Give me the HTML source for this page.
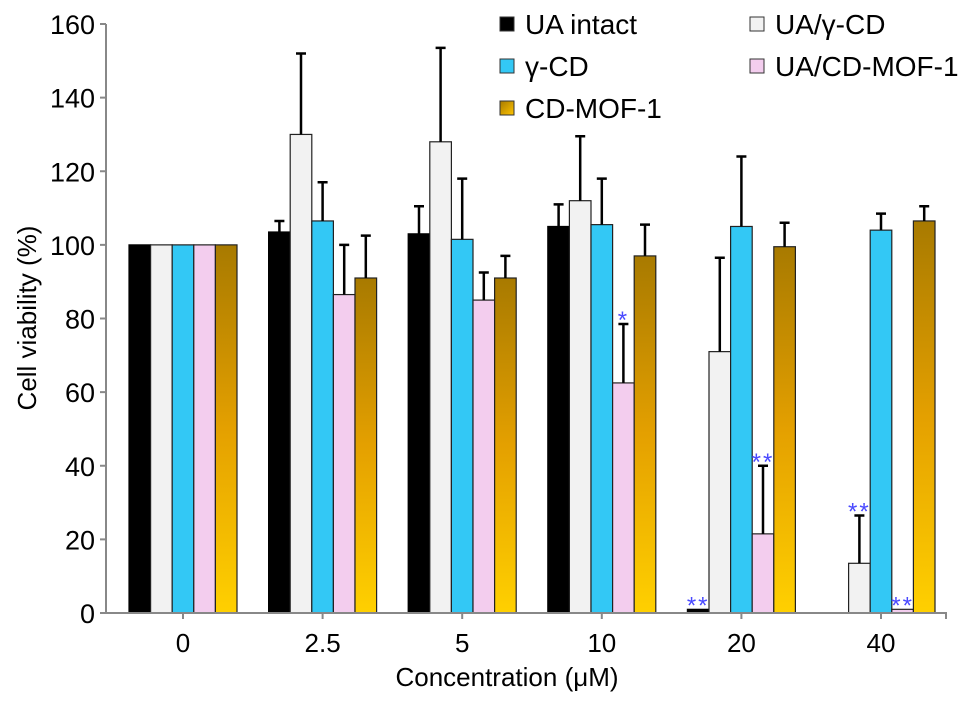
<!DOCTYPE html>
<html><head><meta charset="utf-8"><style>
body{margin:0;background:#fff;}
svg text{font-family:"Liberation Sans",Arial,sans-serif;}
</style></head><body>
<svg id="chart" width="969" height="706" viewBox="0 0 969 706" xmlns="http://www.w3.org/2000/svg">
<defs>
<linearGradient id="gold" x1="0" y1="0" x2="0" y2="1"><stop offset="0" stop-color="#a87a00"/><stop offset="0.5" stop-color="#e4a000"/><stop offset="1" stop-color="#ffd000"/></linearGradient>
<linearGradient id="goldLeg" x1="0" y1="0" x2="1" y2="1"><stop offset="0" stop-color="#a87a00"/><stop offset="1" stop-color="#ffc400"/></linearGradient>
</defs>
<g id="plot"></g>
</svg>
<script>
const categories = ["0","2.5","5","10","20","40"];
const seriesNames = ["UA intact","UA/γ-CD","γ-CD","UA/CD-MOF-1","CD-MOF-1"];
const uaIntact = [100,103.5,103,105,1,0];
const uaGcd = [100,130,128,112,71,13.5];
const gcd = [100,106.5,101.5,105.5,105,104];
const uaMof = [100,86.5,85,62.5,21.5,1];
const mof = [100,91,91,97,99.5,106.5];
const errUaIntact = [0,3,7.5,6,0,0];
const errUaGcd = [0,22,25.5,17.5,25.5,13];
const errGcd = [0,10.5,16.5,12.5,19,4.5];
const errUaMof = [0,13.5,7.5,16,18.5,0];
const errMof = [0,11.5,6,8.5,6.5,4];
const yTicks = [0,20,40,60,80,100,120,140,160];
// significance marks: [series index, category index, label]
const sigMarks = [[3,3,"*"],[0,4,"**"],[3,4,"**"],[1,5,"**"],[3,5,"**"]];

const series=[uaIntact,uaGcd,gcd,uaMof,mof];
const errs=[errUaIntact,errUaGcd,errGcd,errUaMof,errMof];
const fills=["#000","#f2f2f2","#33c8f5","#f3cdee","url(#gold)"];
const NS="http://www.w3.org/2000/svg";
const g=document.getElementById('plot');
const y0=613,yTop=24,yMax=160;
const yS=v=>y0-(v/yMax)*(y0-yTop);
const groupLeft=i=>129+i*139.6, bw=21.6;
const barX=(i,s)=>groupLeft(i)+s*bw;
function el(t,a,parent){const e=document.createElementNS(NS,t);for(const k in a)e.setAttribute(k,a[k]);(parent||g).appendChild(e);return e;}

// bars
series.forEach((arr,s)=>{arr.forEach((v,i)=>{
  const x=barX(i,s);
  const r=el('rect',{x:x,y:yS(v),width:bw,height:y0-yS(v),fill:fills[s],stroke:s==0?"#000":"#222","stroke-width":1.2});
  
  
  const e=errs[s][i];
  if(e>0){const cx=x+bw/2;
    const ln=el('path',{d:`M${cx},${yS(v)}V${yS(v+e)}M${cx-5},${yS(v+e)}H${cx+5}`,stroke:"#000","stroke-width":2.5,fill:"none"});
    
    }
});});
sigMarks.forEach(m=>{const [s,i,l]=m;const v=series[s][i]+errs[s][i];
  const t=el('text',{x:barX(i,s)+bw/2,y:yS(v)+4,'text-anchor':'middle','font-size':24,'letter-spacing':2,fill:"#4a4aff"});t.textContent=l;
  
  });

// axes
const ax=el('path',{d:`M106,${yTop}V${y0}H946V${y0+6}`,stroke:"#888","stroke-width":2,fill:"none"});


yTicks.forEach(v=>{el('line',{x1:100,x2:106,y1:yS(v),y2:yS(v),stroke:"#888","stroke-width":2});
  const t=el('text',{x:95,y:yS(v)+10,'text-anchor':'end','font-size':27,fill:"#000"});t.textContent=v;
  
  });
categories.forEach((c,i)=>{const cx=groupLeft(i)+2.5*bw;
  el('line',{x1:cx,x2:cx,y1:y0,y2:y0+6,stroke:"#888","stroke-width":2});
  const t=el('text',{x:cx,y:652,'text-anchor':'middle','font-size':26,fill:"#000"});t.textContent=c;
  
  });
let t=el('text',{x:507,y:686,'text-anchor':'middle','font-size':26});t.textContent="Concentration (μM)";


t=el('text',{x:0,y:0,'text-anchor':'middle','font-size':26,transform:'translate(36,318) rotate(-90)'});t.textContent="Cell viability (%)";



// legend
const leg=[[0,500,24],[2,500,66],[4,500,108],[1,750,24],[3,750,66]];
const legW=[112,0,0,0,130];
const legFill=["#000","#f2f2f2","#33c8f5","#f3cdee","url(#goldLeg)"];
leg.forEach(([s,x,y])=>{
  const r=el('rect',{x:x,y:y-7,width:14,height:14,fill:legFill[s],stroke:"#333","stroke-width":1});
  
  
  const tt=el('text',{x:x+25,y:y+10,'font-size':28});tt.textContent=seriesNames[s];
  
  });
</script>
</body></html>
